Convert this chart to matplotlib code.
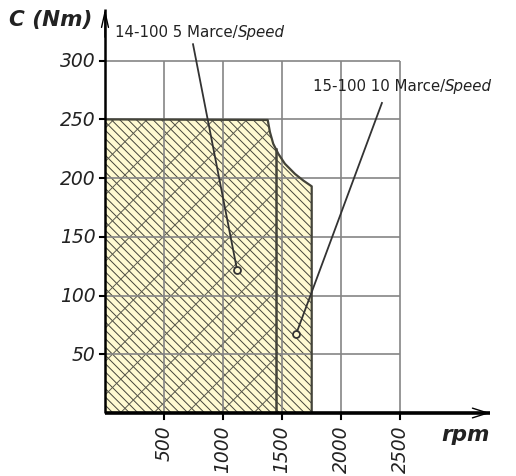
import matplotlib
matplotlib.use("Agg")
import matplotlib.pyplot as plt
import numpy as np

# values
rpm_ticks = [500, 1000, 1500, 2000, 2500]
torque_ticks = [50, 100, 150, 200, 250, 300]

# 15-100, 10 speed envelope
rpm_10 = [0, 1379, 1398, 1426, 1469, 1525, 1610, 1681, 1752]
torque_10 = [250, 249.5, 239.2, 229.2, 220.7, 212.2, 203.6, 197.9, 193.0]
# 14-100, 5 speed envelope
rpm_5 = [0, 1379, 1398, 1426, 1450]
torque_5 = [250, 249.5, 239.2, 229.2, 224.5]

label_5 = "14-100 5 Marce/"
label_10 = "15-100 10 Marce/"
point_5 = (1119, 122)
text_end_5 = (746, 314)
point_10 = (1619, 67)
text_end_10 = (2347, 264)

plt.rcParams['hatch.linewidth'] = 0.7
FILL = "#fffad2"
EDGE = "#44443a"
GRID = "#858585"
FONT = "DejaVu Sans"

W, H = 516, 477
fig = plt.figure(figsize=(W / 100, H / 100), dpi=100)
ax = fig.add_axes([105 / W, (H - 414) / H, (490 - 105) / W, (414 - 10) / H])
ax.set_xlim(0, 3263)
ax.set_ylim(0, 344)
ax.axis("off")

# filled areas
ax.fill_between(rpm_10, torque_10, 0, facecolor=FILL, edgecolor=EDGE,
                hatch="\\\\\\\\", linewidth=0, zorder=1)
ax.fill_between(rpm_5, torque_5, 0, facecolor="none", edgecolor="#5a5a50",
                hatch="/", linewidth=0, zorder=1.5)

# grid
ax.vlines(rpm_ticks, 0, max(torque_ticks), color=GRID, lw=1.2, zorder=2)
ax.hlines(torque_ticks, 0, max(rpm_ticks), color=GRID, lw=1.2, zorder=2)

# outlines
ax.plot(rpm_10 + [rpm_10[-1]], torque_10 + [0], color=EDGE, lw=1.6, zorder=3)
ax.plot([rpm_5[-1], rpm_5[-1]], [0, torque_5[-1]], color=EDGE, lw=1.8, zorder=3)
ax.plot([0, rpm_10[-1]], [0, 0], color=EDGE, lw=1.6, zorder=3)

# axes with open arrow heads
ax.plot([0, 3263], [0, 0], color="black", lw=2.6, clip_on=False, zorder=4,
        solid_capstyle="butt")
ax.plot([0, 0], [0, 344], color="black", lw=1.8, clip_on=False, zorder=4,
        solid_capstyle="butt")
ax.annotate("", xy=(3263, 0), xytext=(3000, 0), annotation_clip=False,
            arrowprops=dict(arrowstyle="->,head_length=1.1,head_width=0.35",
                            color="black", lw=1.0, shrinkA=0, shrinkB=0), zorder=4)
ax.annotate("", xy=(0, 344), xytext=(0, 320), annotation_clip=False,
            arrowprops=dict(arrowstyle="->,head_length=1.1,head_width=0.25",
                            color="black", lw=1.0, shrinkA=0, shrinkB=0), zorder=4)

# ticks
for x in rpm_ticks:
    ax.plot([x, x], [0, -5], color="black", lw=1.5, clip_on=False, zorder=4)
    ax.text(x, -10, str(x), rotation=90, ha="center", va="top",
            fontsize=13.5, style="italic", family=FONT, color="#222222")
for y in torque_ticks:
    ax.plot([0, -40], [y, y], color="black", lw=1.5, clip_on=False, zorder=4)
    ax.text(-80, y, str(y), ha="right", va="center",
            fontsize=13.5, style="italic", family=FONT, color="#222222")

fig.text(9 / W, 1 - 20 / H, "C (Nm)", ha="left", va="center", fontsize=15.5,
         weight="bold", style="italic", family=FONT, color="#222222")
fig.text(441 / W, 1 - 435 / H, "rpm", ha="left", va="center", fontsize=15.5,
         weight="bold", style="italic", family=FONT, color="#222222")

# leader lines
for pt, end in [(point_5, text_end_5), (point_10, text_end_10)]:
    ax.plot([end[0], pt[0]], [end[1], pt[1]], color="#333333", lw=1.3, zorder=5)
    ax.plot(pt[0], pt[1], "o", ms=5, mfc=FILL, mec="#333333", mew=1.3, zorder=6)

t5 = fig.text(115 / W, 1 - 33 / H, label_5, ha="left", va="center",
              fontsize=10.8, family=FONT, color="#222222")
ax.annotate("Speed", xy=(1, 0.5), xycoords=t5, fontsize=10.8, style="italic",
            family=FONT, color="#222222", va="center", annotation_clip=False)
t10 = fig.text(313 / W, 1 - 87 / H, label_10, ha="left", va="center",
               fontsize=10.8, family=FONT, color="#222222")
ax.annotate("Speed", xy=(1, 0.5), xycoords=t10, fontsize=10.8, style="italic",
            family=FONT, color="#222222", va="center", annotation_clip=False)

fig.savefig("out.png", dpi=100)
